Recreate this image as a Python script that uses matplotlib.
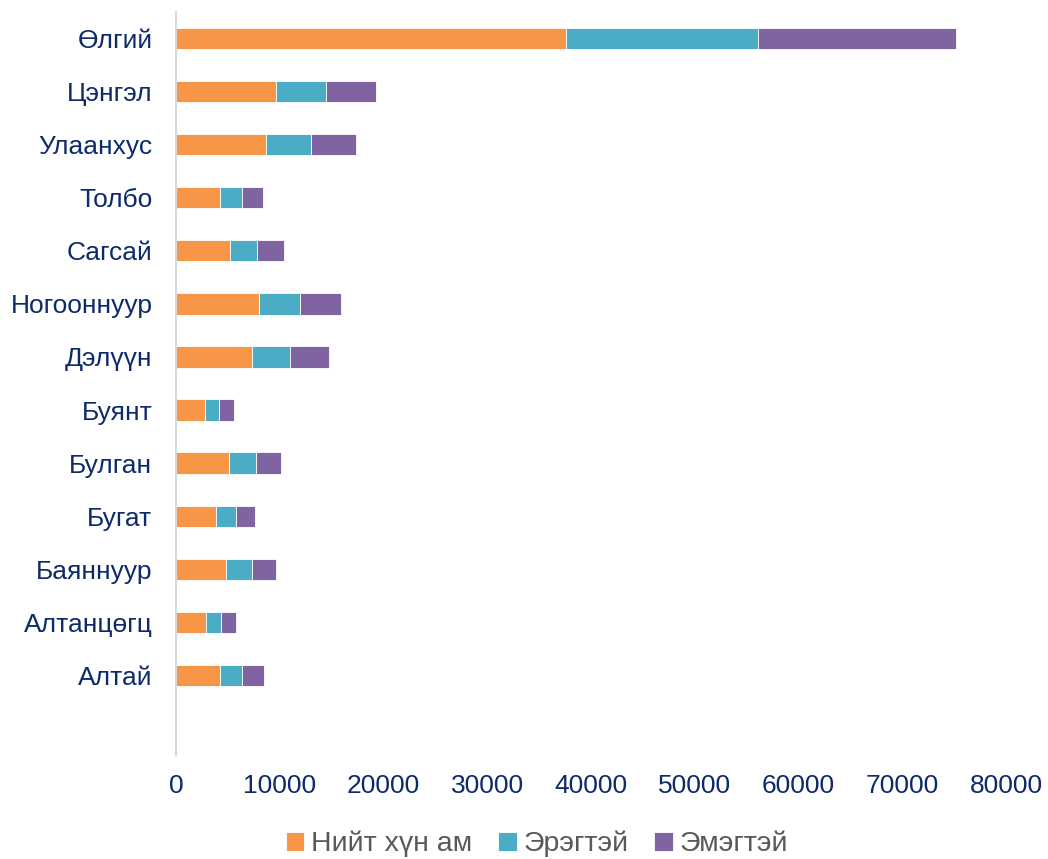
import numpy as np
import matplotlib
matplotlib.use("Agg")
import matplotlib.pyplot as plt

plt.rcParams['font.family'] = ['Liberation Sans', 'DejaVu Sans']

# Сумын нэрс (доороос дээш), хамгийн доор хоосон мөр
sumuud = ["", "Алтай", "Алтанцөгц", "Баяннуур", "Бугат", "Булган", "Буянт",
          "Дэлүүн", "Ногооннуур", "Сагсай", "Толбо", "Улаанхус", "Цэнгэл", "Өлгий"]
niit = [0, 4220, 2870, 4820, 3820, 5080, 2780, 7360, 7970, 5210, 4250, 8690, 9620, 37600]
ereg = [0, 2140, 1450, 2470, 1980, 2600, 1410, 3630, 3990, 2570, 2080, 4360, 4850, 18500]
emeg = [0, 2080, 1460, 2340, 1860, 2470, 1410, 3730, 3980, 2640, 2090, 4310, 4780, 19100]

colors = ["#F79646", "#4BACC6", "#8064A2"]
names = ["Нийт хүн ам", "Эрэгтэй", "Эмэгтэй"]
label_col = "#0D2A6B"

fig = plt.figure(figsize=(10.48, 8.59), dpi=100)
ax = fig.add_axes([176 / 1048, 1 - 755 / 859, 830 / 1048, 743 / 859])

y = np.arange(len(sumuud))
left = np.zeros(len(sumuud))
for vals, c, n in zip([niit, ereg, emeg], colors, names):
    ax.barh(y, vals, left=left, height=0.4, color=c, label=n,
            edgecolor="white", linewidth=0.6)
    left += np.array(vals)

ax.set_xlim(0, 80000)
ax.set_ylim(-0.5, len(sumuud) - 0.5)
ax.set_xticks(np.arange(0, 80001, 10000))
ax.set_yticks(y)
ax.set_yticklabels(sumuud)
ax.tick_params(axis='both', length=0, labelsize=19, labelcolor=label_col)
ax.tick_params(axis='x', pad=14)
ax.tick_params(axis='y', pad=17)

for s in ["top", "right", "bottom"]:
    ax.spines[s].set_visible(False)
ax.spines["left"].set_color("#D9D9D9")
ax.spines["left"].set_linewidth(1.5)

leg = fig.legend(loc="center", bbox_to_anchor=(537 / 1048, 1 - 844 / 859),
                 ncol=3, frameon=False, fontsize=20.5, handlelength=0.65,
                 handleheight=0.65, handletextpad=0.25, columnspacing=0.9)
for t in leg.get_texts():
    t.set_color("#595959")

fig.savefig("out.png", dpi=100)
